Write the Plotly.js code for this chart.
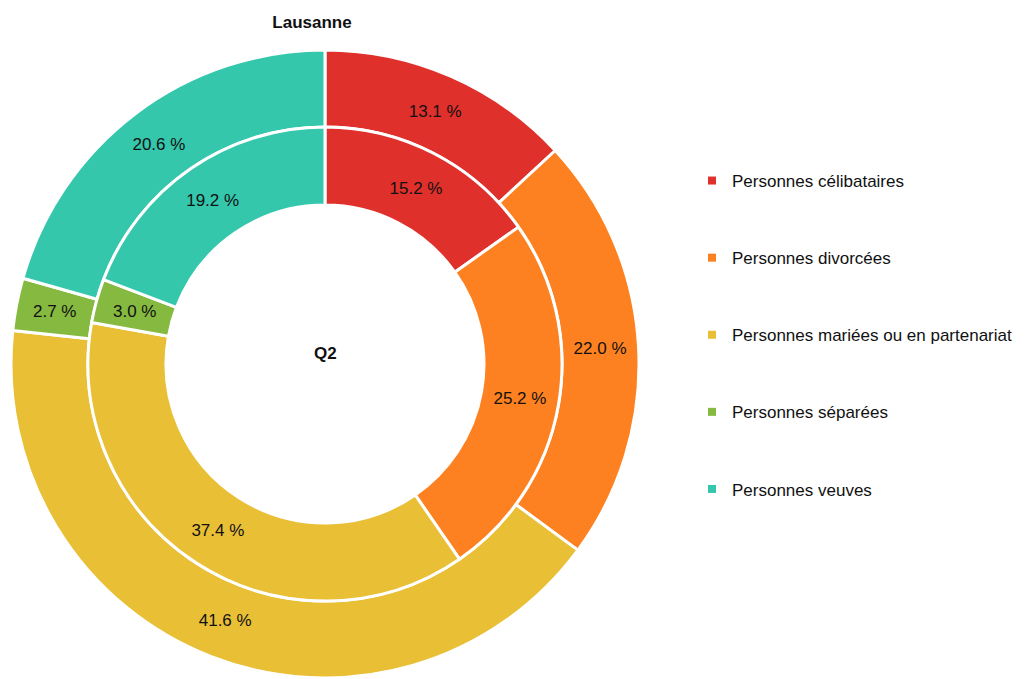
<!DOCTYPE html>
<html>
<head>
<meta charset="utf-8">
<script src="https://cdn.plot.ly/plotly-3.0.1.min.js"></script>
<style>html,body{margin:0;padding:0;background:#fff;}#chart{width:1025px;height:679px;}</style>
</head>
<body>
<div id="chart"></div>
<script>
const categories = ["Personnes célibataires", "Personnes divorcées", "Personnes mariées ou en partenariat", "Personnes séparées", "Personnes veuves"];
const outerValues = [13.1, 22.0, 41.6, 2.7, 20.6];
const innerValues = [15.2, 25.2, 37.4, 3.0, 19.2];
const colors = ["#e0302b", "#fd8120", "#e9bf35", "#85b940", "#34c7ac"];
const titleText = "Lausanne";
const centerText = "Q2";

const FONT = "'Liberation Sans', Arial, sans-serif";
const TEXTSIZE = 17;

const W = 1025, H = 679;
const cx = 325, cy = 364;           // centre in px (from top)
const rOuter = 314, rMid = 237, rHole = 159;
function dom(r) {
  const yb = H - cy;
  return { x: [(cx - r) / W, (cx + r) / W], y: [(yb - r) / H, (yb + r) / H] };
}

// thin slices: Plotly shifts their labels off-centre, so label them at the slice centre
const SMALL = 5;
const annotations = [];
function labelsFor(values, r0, r1) {
  const total = values.reduce((a, b) => a + b, 0);
  let cum = 0;
  return values.map(v => {
    const mid = (cum + v / 2) / total;
    cum += v;
    if (v >= SMALL) return "%{value:.1f} %";
    const ang = mid * 2 * Math.PI;            // clockwise from 12 o'clock
    const rm = (r0 + r1) / 2;
    const px = cx + rm * Math.sin(ang);
    const py = cy - rm * Math.cos(ang);
    annotations.push({
      text: v.toFixed(1) + " %", x: px / W, y: (H - py) / H,
      xref: "paper", yref: "paper", xanchor: "center", yanchor: "middle",
      showarrow: false, font: { family: FONT, size: TEXTSIZE, color: "#111111" }
    });
    return "";
  });
}

const common = {
  type: "pie",
  labels: categories,
  sort: false,
  direction: "clockwise",
  rotation: 0,
  marker: { colors: colors, line: { color: "#ffffff", width: 3 } },
  textposition: "inside",
  insidetextorientation: "horizontal",
  textfont: { family: FONT, size: TEXTSIZE, color: "#111111" },
  hoverinfo: "label+value",
  showlegend: false
};

const traces = [
  Object.assign({}, common, { values: outerValues, texttemplate: labelsFor(outerValues, rMid, rOuter), domain: dom(rOuter), hole: rMid / rOuter, name: "outer" }),
  Object.assign({}, common, { values: innerValues, texttemplate: labelsFor(innerValues, rHole, rMid), domain: dom(rMid), hole: rHole / rMid, name: "inner" })
];

categories.forEach((c, i) => {
  traces.push({
    type: "scatter", mode: "markers", x: [null], y: [null],
    name: c, legendgroup: "g" + i, showlegend: true,
    marker: { symbol: "square", size: 8, color: colors[i] },
    hoverinfo: "skip"
  });
});

annotations.push({
  text: "<b>" + centerText + "</b>", x: cx / W, y: (H - 354) / H,
  xref: "paper", yref: "paper", xanchor: "center", yanchor: "middle", showarrow: false,
  font: { family: FONT, size: 17, color: "#111111" }
});

const layout = {
  width: W, height: H,
  margin: { l: 0, r: 0, t: 0, b: 0, autoexpand: false },
  paper_bgcolor: "#ffffff", plot_bgcolor: "#ffffff",
  font: { family: FONT, size: 17, color: "#111111" },
  title: {
    text: "<b>" + titleText + "</b>",
    x: 312 / W, xanchor: "center", xref: "paper",
    y: 1 - 22 / H, yanchor: "middle", yref: "container",
    font: { family: FONT, size: 17, color: "#111111" }
  },
  xaxis: { visible: false }, yaxis: { visible: false },
  uniformtext: { mode: "show", minsize: TEXTSIZE },
  showlegend: true,
  legend: {
    x: 692 / W, xanchor: "left", y: 1 - 163 / H, yanchor: "top",
    traceorder: "grouped", tracegroupgap: 52,
    font: { family: FONT, size: 17, color: "#111111" },
    bgcolor: "rgba(0,0,0,0)"
  },
  annotations: annotations
};

Plotly.newPlot("chart", traces, layout, { displayModeBar: false, staticPlot: true });
</script>
</body>
</html>
